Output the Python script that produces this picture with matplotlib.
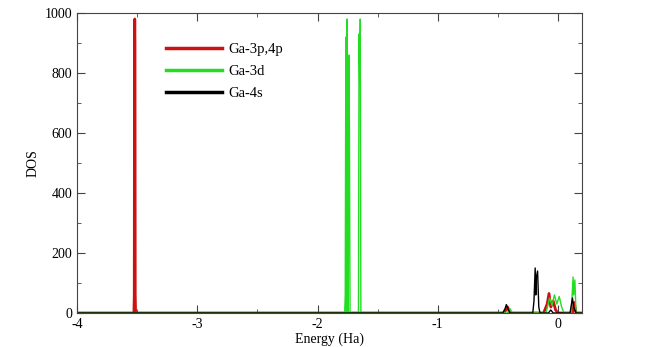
import numpy as np
import matplotlib.pyplot as plt
from matplotlib.ticker import MultipleLocator

plt.rcParams['font.family'] = ['Liberation Serif', 'DejaVu Serif']
plt.rcParams['axes.unicode_minus'] = False

# Ga-3p,4p
red_e = [-4.0, -3.528, -3.525, -3.523, -3.521, -3.519, -3.517, -3.514,
         -0.45, -0.43, -0.42, -0.40, -0.12, -0.09, -0.075, -0.06, -0.04, -0.02, 0.0,
         0.12, 0.135, 0.15, 0.2]
red_d = [0, 0, 60, 900, 980, 900, 60, 0,
         0, 12, 20, 0, 0, 30, 65, 20, 40, 10, 0,
         0, 35, 0, 0]
# Ga-3d
green_e = [-4.0, -1.775, -1.77, -1.765, -1.76, -1.755, -1.75, -1.745, -1.74, -1.735,
           -1.73, -1.725, -1.72, -1.68, -1.66, -1.655, -1.65, -1.645, -1.64, -1.635,
           -1.63, -1.62, -0.42, -0.40, -0.38, -0.10, -0.07, -0.05, -0.03, -0.01,
           0.01, 0.03, 0.05, 0.11, 0.125, 0.13, 0.14, 0.15, 0.2]
green_d = [0, 0, 60, 920, 0, 980, 620, 0, 860, 600,
           0, 0, 0, 0, 0, 930, 770, 980, 0, 0,
           0, 0, 0, 15, 0, 0, 50, 25, 60, 30,
           55, 20, 0, 0, 120, 60, 110, 0, 0]
# Ga-4s
black_e = [-4.0, -0.46, -0.44, -0.43, -0.42, -0.40, -0.21, -0.20, -0.19, -0.185,
           -0.18, -0.17, -0.16, -0.15, -0.08, -0.06, -0.04, 0.10, 0.12, 0.13, 0.15, 0.2]
black_d = [0, 0, 15, 28, 18, 0, 0, 40, 150, 60,
           120, 140, 20, 0, 0, 10, 0, 0, 50, 20, 0, 0]

fig = plt.figure(figsize=(6.54, 3.47), dpi=100)
ax = fig.add_axes([0.118, 0.098, 0.772, 0.8645])

ax.plot(red_e, red_d, color='#cc1111', lw=2.0, label='Ga-3p,4p')
ax.plot(green_e, green_d, color='#22dd22', lw=1.0, label='Ga-3d')
ax.plot(black_e, black_d, color='black', lw=1.0, label='Ga-4s')

ax.set_xlim(-4, 0.2)
ax.set_ylim(0, 1000)
ax.xaxis.set_major_locator(MultipleLocator(1))
ax.xaxis.set_minor_locator(MultipleLocator(0.5))
ax.yaxis.set_major_locator(MultipleLocator(200))
ax.yaxis.set_minor_locator(MultipleLocator(100))
ax.tick_params(which='both', direction='in', top=True, right=True, labelsize=10,
               color='#444444')
ax.tick_params(which='major', length=6)
ax.tick_params(which='minor', length=3)
for s in ax.spines.values():
    s.set_color('#444444')

ax.set_xlabel('Energy (Ha)', fontsize=10, labelpad=1)
ax.set_ylabel('DOS', fontsize=10, labelpad=4)

leg = ax.legend(loc='upper left', bbox_to_anchor=(0.149, 0.945), frameon=False,
                fontsize=10.5, handlelength=3.9, labelspacing=0.6, handletextpad=0.4)
for h in leg.get_lines():
    h.set_linewidth(2.5)

fig.savefig('out.png', dpi=100)
